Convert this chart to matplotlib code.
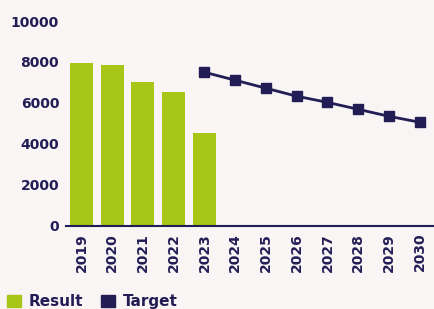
import matplotlib.pyplot as plt
from matplotlib.patches import Patch

years = ["2019", "2020", "2021", "2022", "2023", "2024", "2025", "2026",
         "2027", "2028", "2029", "2030"]
result = [7950, 7850, 7020, 6540, 4540]
target_years = ["2023", "2024", "2025", "2026", "2027", "2028", "2029", "2030"]
target = [7500, 7110, 6720, 6330, 6030, 5690, 5350, 5060]

bg = "#F8F5F4"
navy = "#231D56"
green = "#A8C618"

plt.rcParams["font.family"] = "DejaVu Sans"
plt.rcParams["font.weight"] = "bold"

fig = plt.figure(figsize=(4.35, 3.09), dpi=100, facecolor=bg)
ax = fig.add_axes([0.152, 0.269, 0.848, 0.663])
ax.set_facecolor(bg)

x_all = list(range(len(years)))
ax.bar(x_all[:len(result)], result, width=0.75, color=green, zorder=2)
tx = [years.index(y) for y in target_years]
ax.plot(tx, target, color=navy, lw=2, marker="s", ms=6.8, zorder=3)

ax.set_xlim(-0.5, len(years) - 0.5)
ax.set_ylim(0, 10000)
ax.set_yticks([0, 2000, 4000, 6000, 8000, 10000])
ax.set_xticks(x_all)
ax.set_xticklabels(years, rotation=90)
ax.tick_params(length=0, colors=navy, labelsize=10, pad=5)
for s in ["top", "right", "left"]:
    ax.spines[s].set_visible(False)
ax.spines["bottom"].set_color(navy)
ax.spines["bottom"].set_linewidth(1.5)

handles = [Patch(color=green, label="Result"), Patch(color=navy, label="Target")]
fig.legend(handles=handles, loc="lower left", bbox_to_anchor=(-0.015, -0.045),
           ncol=2, frameon=False, fontsize=11, labelcolor=navy,
           handlelength=0.9, handleheight=0.9, handletextpad=0.5, columnspacing=1.2)

fig.savefig("out.png", dpi=100, facecolor=bg)
